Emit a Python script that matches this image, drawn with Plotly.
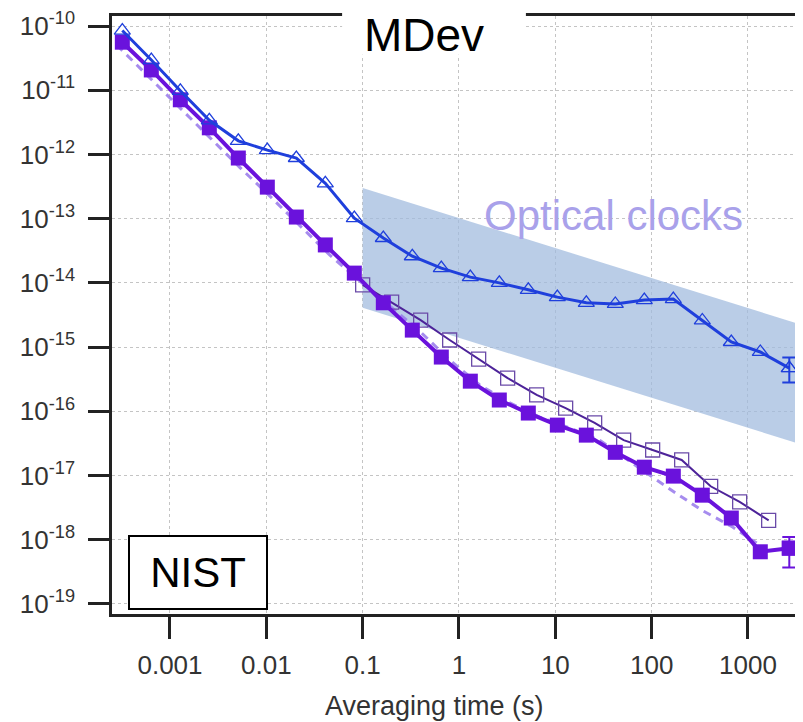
import plotly.graph_objects as go

# averaging times (s) for the two long runs
TAU = [0.00032, 0.00064, 0.00128, 0.00256, 0.00512, 0.01024, 0.02048, 0.04096,
       0.08192, 0.16384, 0.32768, 0.65536, 1.311, 2.621, 5.243, 10.49, 20.97,
       41.94, 83.89, 167.8, 335.5, 671.1, 1342, 2684]
BLUE = [8.5e-11, 2.95e-11, 9.8e-12, 3.4e-12, 1.63e-12, 1.17e-12, 8.8e-13, 3.55e-13,
        1.02e-13, 5.0e-14, 2.6e-14, 1.7e-14, 1.23e-14, 1.0e-14, 7.8e-15, 6.0e-15,
        4.9e-15, 4.7e-15, 5.4e-15, 5.6e-15, 2.6e-15, 1.2e-15, 8.4e-16, 4.7e-16]
FILLED = [5.6e-11, 2.07e-11, 7.1e-12, 2.6e-12, 8.8e-13, 3.1e-13, 1.06e-13, 3.9e-14,
          1.42e-14, 4.9e-15, 1.84e-15, 7.0e-16, 2.95e-16, 1.5e-16, 9.4e-17, 6.1e-17,
          4.26e-17, 2.3e-17, 1.35e-17, 9.8e-18, 4.95e-18, 2.18e-18, 6.5e-19, 7.4e-19]
BLUE_ERR = (2.2e-16, 1.9e-16)      # last point: +, -
FILLED_ERR = (3.6e-19, 3.7e-19)

TAU_OPEN = [0.1, 0.2, 0.4, 0.8, 1.6, 3.2, 6.4, 12.8, 25.6, 51.2, 102.4, 204.8,
            409.6, 819.2, 1638.4]
OPEN = [9.3e-15, 5.0e-15, 2.63e-15, 1.29e-15, 6.5e-16, 3.3e-16, 1.8e-16, 1.12e-16,
        6.6e-17, 3.56e-17, 2.5e-17, 1.75e-17, 6.8e-18, 3.9e-18, 2.0e-18]

TAU_FIT = [2.8e-4, 6.5e-4, 1.33e-3, 2.6e-3, 5.3e-3, 0.0109, 0.0223, 0.0457, 0.0935,
           0.191, 0.39, 0.80, 1.64, 3.37, 6.9, 14.1, 28.8, 70, 161, 330, 692, 1230]
FIT = [5.06e-11, 1.44e-11, 4.9e-12, 1.86e-12, 6.3e-13, 2.24e-13, 7.7e-14, 2.7e-14,
       1.07e-14, 4.4e-15, 1.78e-15, 6.3e-16, 2.57e-16, 1.35e-16, 8.1e-17, 5.5e-17,
       3.56e-17, 1.4e-17, 5.9e-18, 2.9e-18, 1.58e-18, 8.9e-19]

# optical clocks band (corners)
BAND_TAU = [0.1, 3700, 3700, 0.1]
BAND_Y = [3.0e-13, 2.2e-15, 3.0e-17, 4.1e-15]

X_TICKS = [0.001, 0.01, 0.1, 1, 10, 100, 1000]
X_LABELS = ["0.001", "0.01", "0.1", "1", "10", "100", "1000"]
Y_EXP = [-10, -11, -12, -13, -14, -15, -16, -17, -18, -19]

BLUE_C = "#1f3fdc"
PURP_C = "#6a12dc"
OPEN_C = "#4d2399"
FIT_C = "rgba(150,120,235,0.85)"
FONT = "Liberation Sans, Arial, sans-serif"

fig = go.Figure()
fig.add_trace(go.Scatter(x=BAND_TAU, y=BAND_Y, fill="toself", mode="lines",
                         line=dict(width=0), fillcolor="rgba(160,186,222,0.72)",
                         hoverinfo="skip"))
fig.add_trace(go.Scatter(x=TAU_FIT, y=FIT, mode="lines",
                         line=dict(color=FIT_C, width=3, dash="8px,6px")))
fig.add_trace(go.Scatter(x=TAU_OPEN, y=OPEN, mode="lines+markers",
                         line=dict(color=OPEN_C, width=2),
                         marker=dict(symbol="square-open", size=14, color="#6a4aa8",
                                     line=dict(width=1.3))))
fig.add_trace(go.Scatter(x=TAU, y=FILLED, mode="lines+markers",
                         line=dict(color=PURP_C, width=4),
                         marker=dict(symbol="square", size=15, color=PURP_C)))
fig.add_trace(go.Scatter(x=TAU[-1:], y=FILLED[-1:], mode="markers",
                         marker=dict(symbol="square", size=15, color=PURP_C),
                         error_y=dict(type="data", array=[FILLED_ERR[0]],
                                      arrayminus=[FILLED_ERR[1]], color=PURP_C,
                                      thickness=2, width=7)))
fig.add_trace(go.Scatter(x=TAU, y=BLUE, mode="lines+markers",
                         line=dict(color=BLUE_C, width=3),
                         marker=dict(symbol="triangle-up-open", size=14, color=BLUE_C,
                                     line=dict(width=1.3))))
fig.add_trace(go.Scatter(x=TAU[-1:], y=BLUE[-1:], mode="markers",
                         marker=dict(symbol="triangle-up-open", size=14, color=BLUE_C),
                         error_y=dict(type="data", array=[BLUE_ERR[0]],
                                      arrayminus=[BLUE_ERR[1]], color=BLUE_C,
                                      thickness=2, width=7)))

axis_common = dict(type="log", ticks="outside", tickwidth=2.5, tickcolor="#222",
                   showline=True, linewidth=2.5, linecolor="#222", automargin=False,
                   showgrid=True, gridcolor="#c4c4c4", gridwidth=1, griddash="dot",
                   zeroline=False, tickfont=dict(size=26, color="#333", family=FONT))
fig.update_xaxes(range=[-3.602, 3.571], tickvals=X_TICKS, ticktext=X_LABELS,
                 ticklen=22, mirror=True, ticklabelstandoff=4, **axis_common)
fig.update_yaxes(range=[-19.156, -9.844], tickvals=[10.0 ** e for e in Y_EXP],
                 ticktext=[f"10<sup>{e}</sup>" for e in Y_EXP],
                 ticklen=21, ticklabelstandoff=8, **axis_common)

centre = dict(xref="paper", yref="paper", xanchor="center", yanchor="middle",
              showarrow=False)
# page body has an 8px margin, so the figure is 8px smaller than the window
fig.update_layout(
    width=795, height=714, margin=dict(l=104, r=0, t=8, b=108),
    paper_bgcolor="white", plot_bgcolor="white", showlegend=False,
    font=dict(family=FONT, color="#333"),
    shapes=[dict(type="rect", xref="paper", yref="paper", x0=0.333, x1=0.599,
                 y0=0.935, y1=1.03, fillcolor="white", line=dict(width=0),
                 layer="above")],
    annotations=[
        dict(text="MDev", x=0.4515, y=0.968,
             font=dict(size=46, color="black", family=FONT), **centre),
        dict(text="NIST", x=0.1245, y=0.0694,
             font=dict(size=42, color="black", family=FONT),
             bgcolor="white", bordercolor="black", borderwidth=2,
             width=134, height=69, **centre),
        dict(text="Optical clocks", x=0.7258, y=0.667,
             font=dict(size=42, color="#a9a1ea", family=FONT), **centre),
        dict(text="Averaging time (s)", x=0.4667, y=-0.154,
             font=dict(size=27, color="#333", family=FONT), **centre),
    ],
)

fig.write_html("out.html")
